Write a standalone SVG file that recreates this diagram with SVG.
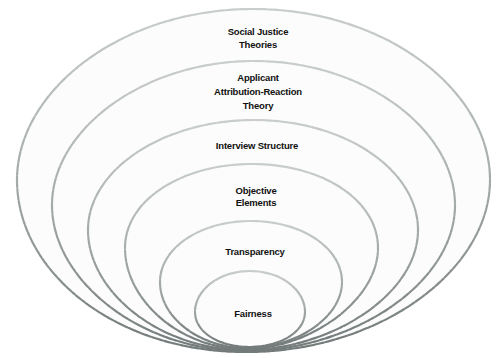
<svg xmlns="http://www.w3.org/2000/svg" width="498" height="358" viewBox="0 0 498 358">
<defs>
<linearGradient id="strokeGrad" x1="0" y1="0" x2="0" y2="1">
<stop offset="0" stop-color="#c9cdcd"/>
<stop offset="0.5" stop-color="#a4aaaa"/>
<stop offset="1" stop-color="#737a7a"/>
</linearGradient>
<style>
.ring{fill:#fcfcfc;stroke:url(#strokeGrad);stroke-width:2.2;stroke-dasharray:7 1.5 3 1;stroke-linecap:round}
.lbl{font-family:"Liberation Sans",Arial,sans-serif;font-weight:bold;font-size:9.5px;fill:#111;text-anchor:middle;letter-spacing:-0.2px}
</style>
</defs>
<rect width="498" height="358" fill="#ffffff"/>
<g id="social-justice">
<path class="ring" d="M253,9 C385,9 490,90 490,180 C490,270 380,352 246,352 C115,352 17,272 17,180 C17,90 122,9 253,9 Z"/>
<text class="lbl" x="258" y="35">Social Justice</text>
<text class="lbl" x="258" y="48">Theories</text>
</g>
<g id="attribution-reaction">
<path class="ring" d="M254,61 C365,61 455,130 455,205 C455,285 350,351 245,351 C140,351 52,280 52,205 C52,130 143,61 254,61 Z"/>
<text class="lbl" x="258" y="81">Applicant</text>
<text class="lbl" x="258" y="95">Attribution-Reaction</text>
<text class="lbl" x="258" y="109">Theory</text>
</g>
<g id="interview-structure">
<path class="ring" d="M254,120 C345,120 418,170 418,230 C418,295 330,350 245,350 C160,350 88,292 88,230 C88,170 163,120 254,120 Z"/>
<text class="lbl" x="257" y="149">Interview Structure</text>
</g>
<g id="objective-elements">
<path class="ring" d="M252,164 C322,164 378,200 378,248 C378,300 310,349 245,349 C180,349 125,300 125,248 C125,200 182,164 252,164 Z"/>
<text class="lbl" x="256" y="194">Objective</text>
<text class="lbl" x="256" y="206">Elements</text>
</g>
<g id="transparency">
<path class="ring" d="M251,221 C302,221 342,248 342,282 C342,318 295,348 247,348 C200,348 160,318 160,282 C160,248 200,221 251,221 Z"/>
<text class="lbl" x="255" y="255">Transparency</text>
</g>
<g id="fairness">
<path class="ring" d="M250,271 C281,271 305,290 305,312 C305,333 278,347 250,347 C220,347 195,333 195,312 C195,290 219,271 250,271 Z"/>
<text class="lbl" x="253" y="317">Fairness</text>
</g>
</svg>
